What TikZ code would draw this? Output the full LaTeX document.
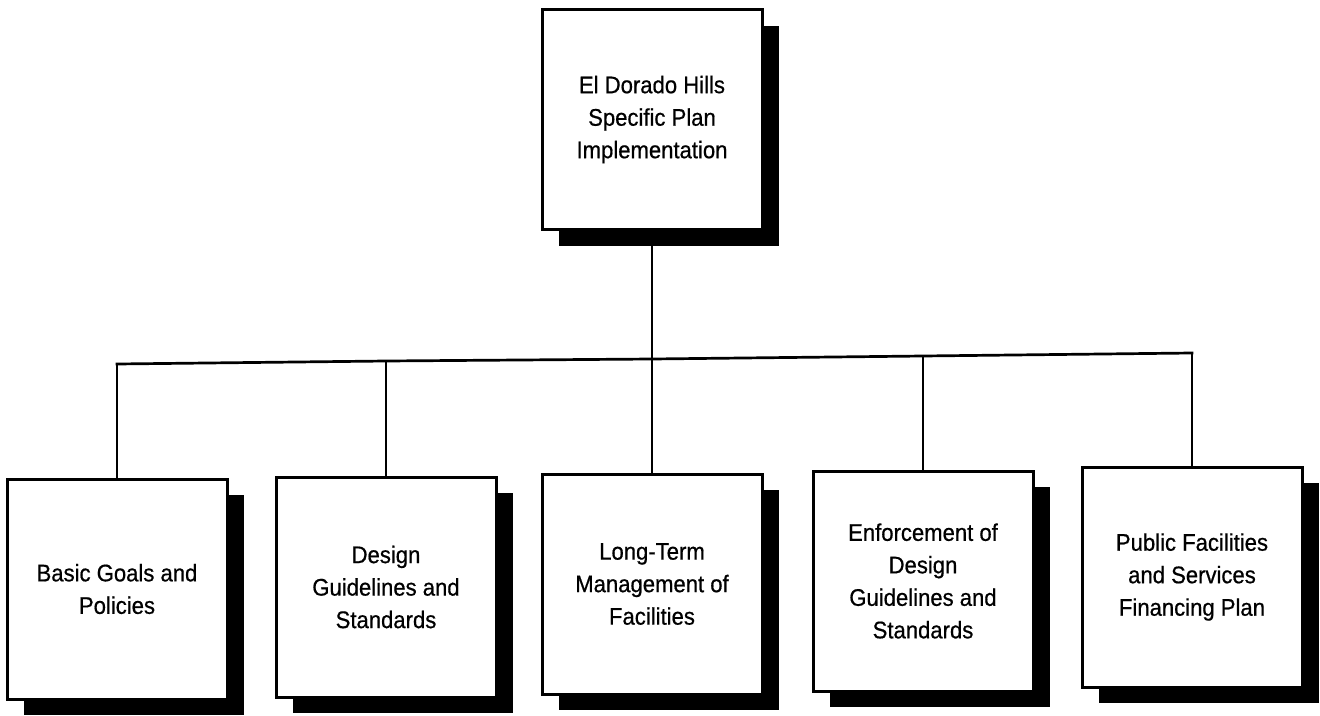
\documentclass[tikz,border=0pt]{standalone}
\usepackage{fontspec}
\setmainfont{Liberation Sans}[FakeStretch=0.92,FakeBold=0.6]
\usetikzlibrary{shadows}
\begin{document}
\begin{tikzpicture}[x=1pt,y=-1pt,
  orgbox/.style={draw=black, line width=3pt, fill=white, minimum width=220pt, minimum height=220pt,
    align=center, inner sep=4pt,
    font=\fontsize{24}{32.5}\selectfont,
    drop shadow={shadow xshift=17pt, shadow yshift=-16pt, opacity=1, fill=black}},
  link/.style={line width=2.7pt, line cap=rect}]
\useasboundingbox (0,0) rectangle (1320,715);
\node[orgbox] (top) at (652,119.5) {El Dorado Hills\\Specific Plan\\Implementation};
\coordinate (j1) at (117,364);
\coordinate (j2) at (386,361);
\coordinate (j3) at (652,359);
\coordinate (j4) at (923,356);
\coordinate (j5) at (1192,353);
\node[orgbox] (b1) at (117,589) {Basic Goals and\\Policies};
\node[orgbox] (b2) at (386,587) {Design\\Guidelines and\\Standards};
\node[orgbox] (b3) at (652,584) {Long-Term\\Management of\\Facilities};
\node[orgbox] (b4) at (923,581) {Enforcement of\\Design\\Guidelines and\\Standards};
\node[orgbox] (b5) at (1192,577) {Public Facilities\\and Services\\Financing Plan};
\draw[link] (top) -- (j3);
\draw[link] (j1) -- (j2) -- (j3) -- (j4) -- (j5);
\draw[link] (j1) -- (b1);
\draw[link] (j2) -- (b2);
\draw[link] (j3) -- (b3);
\draw[link] (j4) -- (b4);
\draw[link] (j5) -- (b5);
\end{tikzpicture}
\end{document}
